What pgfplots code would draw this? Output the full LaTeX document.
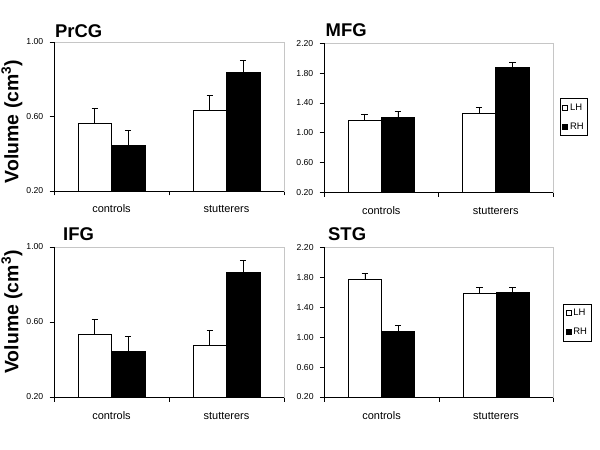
\documentclass[border=0pt]{standalone}
\usepackage{pgfplots}
\pgfplotsset{compat=1.18}
\usepackage{fontspec}
\setmainfont{Liberation Sans}

\pgfplotsset{
  panel/.style={
    scale only axis, width=230bp, height=149bp,
    xmin=-0.5, xmax=1.5,
    xtick={-0.5,0.5,1.5}, xticklabels={,,},
    extra x ticks={0,1}, extra x tick labels={controls,stutterers},
    extra x tick style={major tick length=0pt},
    xticklabel style={font=\fontsize{11}{12}\selectfont, inner sep=0pt, anchor=base, yshift=-22bp},
    tick align=outside, xtick pos=bottom, ytick pos=left,
    major tick length=4.5bp,
    tick style={black, line width=0.6bp},
    axis line style={draw=gray!45, line width=0.6bp},
    yticklabel style={font=\fontsize{8.7}{9}\selectfont, inner sep=0pt, xshift=-6bp},
    /pgf/number format/.cd, fixed, fixed zerofill, precision=2, assume math mode=true, /pgfplots/.cd,
    after end axis/.code={\draw[black, line width=0.8bp] (rel axis cs:0,1) -- (rel axis cs:0,0) -- (rel axis cs:1,0);},
    legend cell align=left,
    legend style={draw=black, line width=0.6bp, font=\fontsize{9.5}{10}\selectfont,
      inner xsep=2bp, inner ysep=3bp, row sep=7bp, anchor=west},
  },
  errs/.style={error bars/.cd, y dir=plus, y explicit,
    error bar style={black, line width=0.7bp},
    error mark options={black, line width=0.7bp, mark size=3.3bp, rotate=90}},
  lhbar/.style={ybar, bar width=0.29, bar shift=0pt, draw=black, fill=white, line width=0.7bp,
    legend image code/.code={\draw[black, fill=white, line width=0.6bp] (0bp,-2.5bp) rectangle (5bp,2.5bp);}, errs},
  rhbar/.style={ybar, bar width=0.29, bar shift=0pt, draw=black, fill=black, line width=0.7bp,
    legend image code/.code={\draw[black, fill=black, line width=0.6bp] (0bp,-2.5bp) rectangle (5bp,2.5bp);}, errs},
}

\begin{document}
\begin{tikzpicture}
\path[use as bounding box] (0bp,0bp) rectangle (600bp,450bp);

% PrCG  (LH at category-0.145, RH at category+0.145)
\begin{axis}[panel, at={(54bp,259bp)}, anchor=south west, ymin=0.2, ymax=1.0, ytick={0.2,0.6,1.0}]
\addplot[lhbar] coordinates {(-0.145,0.565) +- (0,0.079) (0.855,0.633) +- (0,0.079)};
\addplot[rhbar] coordinates {(0.145,0.445) +- (0,0.081) (1.145,0.837) +- (0,0.065)};
\end{axis}

% MFG
\begin{axis}[panel, at={(324bp,257.7bp)}, anchor=south west, width=229bp, ymin=0.2, ymax=2.2, ytick={0.2,0.6,1.0,1.4,1.8,2.2},
  legend style={at={(1.031,0.505)}}]
\addplot[lhbar] coordinates {(-0.145,1.166) +- (0,0.085) (0.855,1.260) +- (0,0.076)};
\addplot[rhbar] coordinates {(0.145,1.201) +- (0,0.090) (1.145,1.873) +- (0,0.067)};
\legend{LH,RH}
\end{axis}

% IFG
\begin{axis}[panel, at={(54bp,53bp)}, anchor=south west, height=150bp, ymin=0.2, ymax=1.0, ytick={0.2,0.6,1.0}]
\addplot[lhbar] coordinates {(-0.145,0.532) +- (0,0.082) (0.855,0.476) +- (0,0.080)};
\addplot[rhbar] coordinates {(0.145,0.445) +- (0,0.079) (1.145,0.865) +- (0,0.064)};
\end{axis}

% STG
\begin{axis}[panel, at={(324.3bp,53bp)}, anchor=south west, width=229bp, height=149.7bp, ymin=0.2, ymax=2.2, ytick={0.2,0.6,1.0,1.4,1.8,2.2},
  legend style={at={(1.044,0.498)}}]
\addplot[lhbar] coordinates {(-0.145,1.772) +- (0,0.081) (0.855,1.585) +- (0,0.075)};
\addplot[rhbar] coordinates {(0.145,1.078) +- (0,0.080) (1.145,1.599) +- (0,0.070)};
\legend{LH,RH}
\end{axis}

% titles
\node[anchor=base west, inner sep=0pt, font=\fontsize{18.5}{20}\selectfont\bfseries] at (55bp,412.3bp) {PrCG};
\node[anchor=base west, inner sep=0pt, font=\fontsize{18.5}{20}\selectfont\bfseries] at (325.5bp,413.3bp) {MFG};
\node[anchor=base west, inner sep=0pt, font=\fontsize{18.5}{20}\selectfont\bfseries] at (63bp,209bp) {IFG};
\node[anchor=base west, inner sep=0pt, font=\fontsize{18.5}{20}\selectfont\bfseries] at (328bp,209.3bp) {STG};

% y labels
\node[rotate=90, anchor=base, inner sep=0pt, font=\fontsize{19.5}{21}\selectfont\bfseries] at (18.3bp,328.5bp) {Volume (cm\textsuperscript{3})};
\node[rotate=90, anchor=base, inner sep=0pt, font=\fontsize{19.5}{21}\selectfont\bfseries] at (18.3bp,138bp) {Volume (cm\textsuperscript{3})};
\end{tikzpicture}
\end{document}
